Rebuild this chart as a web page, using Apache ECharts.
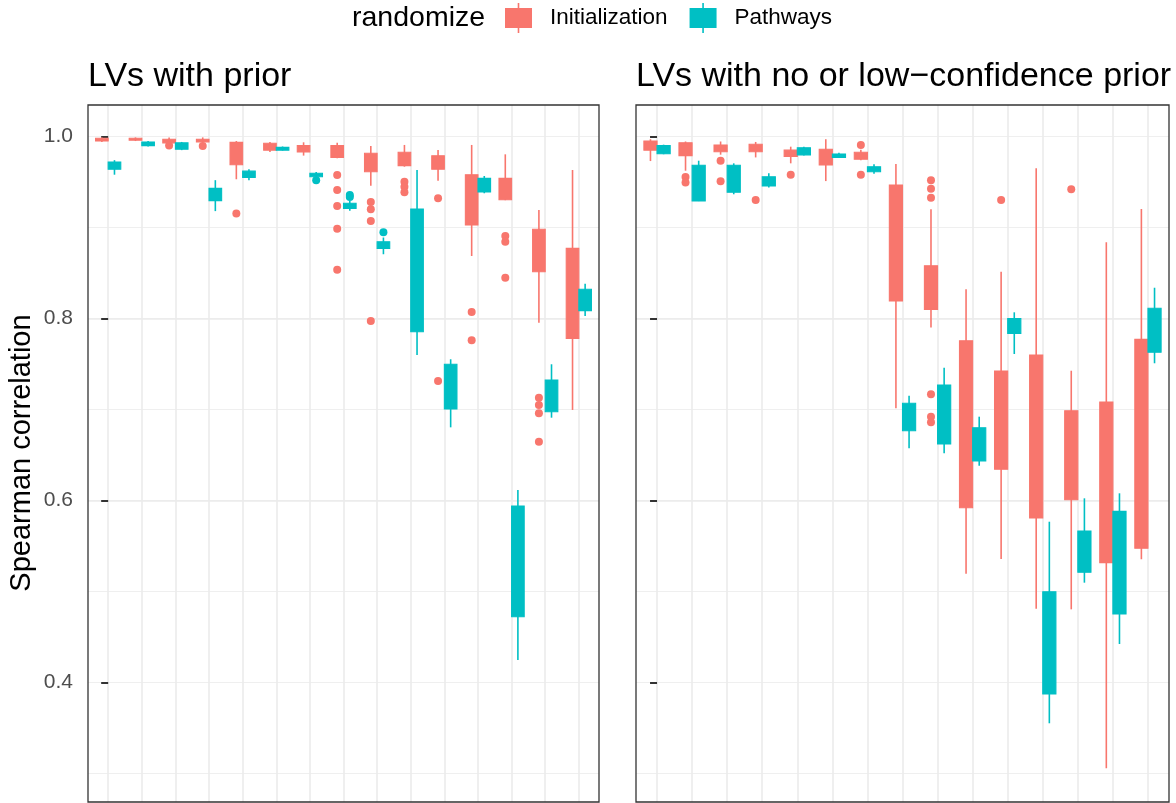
<!DOCTYPE html>
<html>
<head>
<meta charset="utf-8">
<script src="https://cdn.jsdelivr.net/npm/echarts@6/dist/echarts.min.js"></script>
<style>
html,body{margin:0;padding:0;background:#fff;overflow:hidden;}
#chart{width:1176px;height:803px;}
</style>
</head>
<body>
<div id="chart"></div>
<script>
// ---------------- data ----------------
const facetTitles = ['LVs with prior', 'LVs with no or low\u2212confidence prior'];
const groupNames = ['Initialization', 'Pathways'];
const legendTitle = 'randomize';
const yTitle = 'Spearman correlation';
const yTickValues = [0.4, 0.6, 0.8, 1.0];
const categoryIndex = [0,1,2,3,4,5,6,7,8,9,10,11,12,13,14];

// boxes: [lower whisker, Q1, median, Q3, upper whisker]
const priorInit = [
  [0.994,0.995,0.9965,0.998,0.999],
  [0.995,0.996,0.997,0.998,0.999],
  [0.992,0.993,0.995,0.997,0.999],
  [0.993,0.994,0.996,0.997,0.999],
  [0.953,0.969,0.985,0.9935,0.995],
  [0.983,0.985,0.989,0.9925,0.994],
  [0.979,0.983,0.987,0.990,0.9936],
  [0.976,0.977,0.984,0.990,0.993],
  [0.946,0.9613,0.972,0.9815,0.9896],
  [0.9668,0.968,0.976,0.9826,0.9907],
  [0.9514,0.964,0.972,0.9789,0.9852],
  [0.8687,0.9027,0.935,0.958,0.9907],
  [0.930,0.9305,0.945,0.954,0.9804],
  [0.7954,0.8514,0.875,0.898,0.9192],
  [0.6995,0.7782,0.83,0.8771,0.9632]
];
const priorInitOutliers = [[],[],[0.990],[0.9895],[0.9155],[],[],
  [0.9577,0.9412,0.9236,0.8987,0.8536],[0.928,0.920,0.9071,0.7973],
  [0.9503,0.9448,0.9387],[0.932,0.7313],[0.8071,0.776],[0.8907,0.8844,0.8448],
  [0.713,0.705,0.6958,0.6646],[]];
const priorPath = [
  [0.958,0.964,0.968,0.972,0.974],
  [0.989,0.990,0.992,0.994,0.995],
  [0.985,0.986,0.989,0.993,0.994],
  [0.918,0.9295,0.936,0.943,0.952],
  [0.952,0.955,0.958,0.962,0.964],
  [0.9845,0.985,0.987,0.988,0.989],
  [0.9545,0.9558,0.958,0.9596,0.961],
  [0.9185,0.921,0.924,0.9266,0.929],
  [0.8706,0.8771,0.881,0.8844,0.889],
  [0.76,0.7855,0.85,0.9203,0.9632],
  [0.6804,0.7005,0.725,0.7497,0.7552],
  [0.9376,0.939,0.948,0.954,0.9566],
  [0.4247,0.4723,0.53,0.594,0.6115],
  [0.691,0.6976,0.715,0.7324,0.7497],
  [0.8027,0.8086,0.82,0.8321,0.8382]
];
const priorPathOutliers = [[],[],[],[],[],[],[0.952],[0.9357,0.9335],[0.8947],[],[],[],[],[],[]];

const lowInit = [
  [0.973,0.985,0.990,0.995,0.997],
  [0.9624,0.979,0.990,0.9932,0.9945],
  [0.980,0.9833,0.987,0.9907,0.9945],
  [0.977,0.9833,0.988,0.9914,0.994],
  [0.9705,0.978,0.981,0.985,0.9888],
  [0.951,0.9687,0.978,0.986,0.997],
  [0.974,0.975,0.979,0.9826,0.9855],
  [0.7013,0.8192,0.88,0.9467,0.9698],
  [0.79,0.810,0.835,0.858,0.92],
  [0.5196,0.592,0.68,0.7756,0.8321],
  [0.5357,0.6343,0.69,0.7423,0.8514],
  [0.4811,0.5808,0.67,0.7599,0.9651],
  [0.4804,0.6009,0.65,0.6987,0.7426],
  [0.3057,0.5317,0.62,0.7082,0.8837],
  [0.5354,0.5475,0.66,0.7771,0.9203]
];
const lowInitOutliers = [[],[0.9555,0.9495],[0.9734,0.9508],[0.9302],[0.958],[],[0.9907,0.958],[],
  [0.952,0.9426,0.9327,0.7167,0.6921,0.6859],[],[0.9302],[],[0.942],[],[]];
const lowPath = [
  [0.9805,0.981,0.986,0.990,0.991],
  [0.929,0.9291,0.950,0.9684,0.9734],
  [0.9365,0.9387,0.955,0.9684,0.9705],
  [0.944,0.9456,0.951,0.9558,0.9596],
  [0.979,0.9797,0.984,0.9877,0.9888],
  [0.9765,0.9771,0.979,0.9808,0.982],
  [0.959,0.9613,0.964,0.9668,0.9695],
  [0.6574,0.6767,0.69,0.7068,0.7152],
  [0.6519,0.6621,0.70,0.7269,0.746],
  [0.6382,0.6434,0.66,0.68,0.6921],
  [0.761,0.7837,0.79,0.80,0.8068],
  [0.3552,0.3874,0.44,0.4998,0.5767],
  [0.5097,0.5211,0.545,0.5665,0.6024],
  [0.4423,0.4753,0.53,0.5881,0.6079],
  [0.7508,0.7629,0.79,0.8112,0.8338]
];
const lowPathOutliers = [[],[],[],[],[],[],[],[],[],[],[],[],[],[],[]];

// ---------------- style ----------------
const COLORS = ['#F8766D', '#00BFC4'];
const FONT = "'Liberation Sans', Arial, Helvetica, sans-serif";
const Y_MIN = 0.2687, Y_MAX = 1.0346;
const X_MIN = -0.6, X_MAX = 14.6;
const DODGE = 0.375;      // width of each dodged box in category units
const grids = [
  {left: 88, top: 105, width: 511, bottom: 1},
  {left: 636, top: 105, width: 533, bottom: 1}
];

const chart = echarts.init(document.getElementById('chart'), null, {renderer: 'canvas'});

function boxRenderer(sign, color) {
  return function (params, api) {
    const x = api.value(0) + sign * DODGE / 2;
    const w = api.size([DODGE, 0])[0];
    const lo = api.coord([x, api.value(1)]);
    const q1 = api.coord([x, api.value(2)]);
    const q3 = api.coord([x, api.value(4)]);
    const hi = api.coord([x, api.value(5)]);
    return {
      type: 'group',
      children: [
        {type: 'line', shape: {x1: lo[0], y1: lo[1], x2: hi[0], y2: hi[1]},
         style: {stroke: color, lineWidth: 1.6}},
        {type: 'rect', shape: {x: q3[0] - w / 2, y: q3[1], width: w, height: Math.max(q1[1] - q3[1], 0.5)},
         style: {fill: color, stroke: color, lineWidth: 1.1}}
      ]
    };
  };
}

const facetData = [
  [[priorInit, priorInitOutliers], [priorPath, priorPathOutliers]],
  [[lowInit, lowInitOutliers], [lowPath, lowPathOutliers]]
];

const series = [];
facetData.forEach((groups, gi) => {
  groups.forEach(([boxes, outliers], k) => {
    const sign = k === 0 ? -1 : 1;
    series.push({
      name: groupNames[k], type: 'custom', xAxisIndex: gi, yAxisIndex: gi * 2,
      clip: true, itemStyle: {color: COLORS[k]},
      encode: {x: 0, y: [1, 2, 3, 4, 5]},
      renderItem: boxRenderer(sign, COLORS[k]),
      data: boxes.map((b, i) => [categoryIndex[i]].concat(b)),
      silent: true, z: 3
    });
    const pts = [];
    outliers.forEach((arr, i) => arr.forEach(v => pts.push([categoryIndex[i] + sign * DODGE / 2, v])));
    series.push({
      name: groupNames[k], type: 'scatter', xAxisIndex: gi, yAxisIndex: gi * 2,
      symbol: 'circle', symbolSize: 8, itemStyle: {color: COLORS[k], opacity: 1},
      data: pts, silent: true, z: 3, clip: true
    });
  });
});

const xAxes = grids.map((g, gi) => ({
  type: 'value', gridIndex: gi, min: X_MIN, max: X_MAX,
  minInterval: 1, maxInterval: 1, splitNumber: 15,
  axisLine: {show: false}, axisTick: {show: false, length: 0}, axisLabel: {show: false},
  minorTick: {show: false}, minorSplitLine: {show: false},
  splitLine: {show: true, showMinLine: false, showMaxLine: false, lineStyle: {color: '#EBEBEB', width: 1.6}}
}));

const yAxes = [];
grids.forEach((g, gi) => {
  yAxes.push({
    type: 'value', gridIndex: gi, min: Y_MIN, max: Y_MAX,
    minInterval: 0.2, maxInterval: 0.2, splitNumber: 4,
    axisLine: {show: false},
    axisTick: {show: true, length: 7, inside: false, customValues: yTickValues,
               lineStyle: {color: '#333333', width: 2}},
    axisLabel: {show: gi === 0, customValues: yTickValues,
                formatter: v => Number(v).toFixed(1), color: '#4D4D4D', fontSize: 21,
                fontFamily: FONT, margin: 15},
    splitLine: {show: true, showMinLine: false, showMaxLine: false, lineStyle: {color: '#EBEBEB', width: 1.6}},
    z: 1
  });
  yAxes.push({
    type: 'value', gridIndex: gi, min: Y_MIN, max: Y_MAX,
    minInterval: 0.1, maxInterval: 0.1, splitNumber: 8,
    axisLine: {show: false}, axisTick: {show: false}, axisLabel: {show: false},
    splitLine: {show: true, showMinLine: false, showMaxLine: false, lineStyle: {color: '#EBEBEB', width: 0.8}},
    z: 0
  });
});

const keyIcon = 'path://M0,5H27V25H0Z M12.7,0H14.3V30H12.7Z';

const option = {
  backgroundColor: '#ffffff',
  animation: false,
  grid: grids.map(g => Object.assign({show: true, borderColor: '#333333', borderWidth: 1.3, z: 5,
    backgroundColor: 'transparent', containLabel: false, outerBoundsMode: 'none'}, g)),
  xAxis: xAxes,
  yAxis: yAxes,
  legend: {
    left: 505, top: 3, padding: 0, orient: 'horizontal',
    itemWidth: 27, itemHeight: 30, itemGap: 22, icon: keyIcon, selectedMode: false,
    data: groupNames.map((n, k) => ({name: n, itemStyle: {color: COLORS[k]}})),
    textStyle: {fontSize: 22.5, color: '#000', fontFamily: FONT, padding: [0, 0, 0, 13]}
  },
  graphic: [
    {type: 'text', x: 352, y: 18, style: {text: legendTitle, fontSize: 28.5, fontFamily: FONT, fill: '#000', align: 'left', verticalAlign: 'middle'}},
    {type: 'text', x: grids[0].left, y: 77, style: {text: facetTitles[0], fontSize: 34, fontFamily: FONT, fill: '#000', align: 'left', verticalAlign: 'middle'}},
    {type: 'text', x: grids[1].left, y: 77, style: {text: facetTitles[1], fontSize: 34, fontFamily: FONT, fill: '#000', align: 'left', verticalAlign: 'middle'}},
    {type: 'text', x: 22, y: 453, rotation: Math.PI / 2, style: {text: yTitle, fontSize: 29, fontFamily: FONT, fill: '#000', align: 'center', verticalAlign: 'middle'}}
  ],
  series: series
};
chart.setOption(option);
</script>
</body>
</html>
